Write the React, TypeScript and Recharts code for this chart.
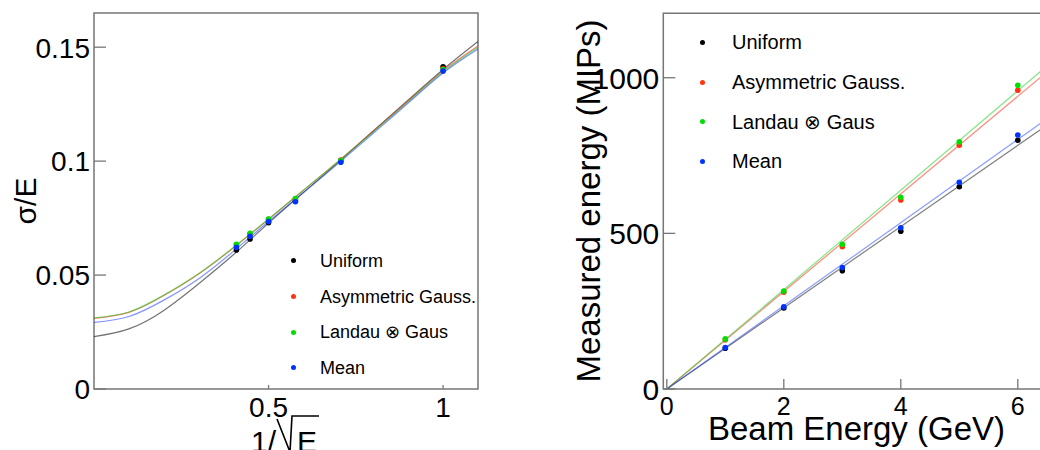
import {
  ComposedChart,
  Label,
  Legend,
  Line,
  ReferenceArea,
  Scatter,
  XAxis,
  YAxis,
} from "recharts";

const FONT = '"Liberation Sans", Arial, Helvetica, sans-serif';
const FRAME = "#767676";

// left panel: energy resolution vs 1/sqrt(E)
const invSqrtE = [0.408, 0.447, 0.5, 0.577, 0.707, 1.0];
const resUniform = [0.061, 0.0658, 0.073, 0.0825, 0.1, 0.1414];
const resAsym = [0.0632, 0.068, 0.0745, 0.0835, 0.1005, 0.1405];
const resLandau = [0.0635, 0.0683, 0.0746, 0.0836, 0.1002, 0.1402];
const resMean = [0.0622, 0.067, 0.0735, 0.0822, 0.0995, 0.1395];

// fitted curves
const fitInvSqrtE = [0, 0.1, 0.2, 0.3, 0.4, 0.5, 0.6, 0.7, 0.8, 0.9, 1.0, 1.1];
const fitUniform = [0.023, 0.0264, 0.0345, 0.0462, 0.059, 0.0728, 0.0862, 0.0995, 0.1132, 0.1268, 0.1402, 0.1525];
const fitAsym = [0.031, 0.0336, 0.041, 0.0505, 0.062, 0.0745, 0.0872, 0.1, 0.1132, 0.1264, 0.1396, 0.1505];
const fitLandau = [0.0312, 0.0338, 0.0412, 0.0507, 0.0622, 0.0746, 0.0872, 0.0998, 0.1128, 0.126, 0.1392, 0.15];
const fitMean = [0.0292, 0.0318, 0.039, 0.0484, 0.0605, 0.0735, 0.0862, 0.099, 0.1122, 0.1255, 0.1387, 0.1492];

const resTicksY = [0, 0.05, 0.1, 0.15];
const resTicksX = [0.5, 1];

// right panel: measured energy vs beam energy
const beamEnergy = [1, 2, 3, 4, 5, 6];
const mipsUniform = [131, 260, 380, 507, 650, 799];
const mipsAsym = [158, 311, 457, 607, 783, 960];
const mipsLandau = [161, 315, 465, 616, 794, 976];
const mipsMean = [133, 264, 390, 518, 664, 816];

const lineBeamE = [0, 6.4];
const lineUniform = [0, 835];
const lineAsym = [0, 1003];
const lineLandau = [0, 1022];
const lineMean = [0, 855];

const mipsTicksY = [0, 500, 1000];
const mipsTicksX = [0, 2, 4, 6];

const names = ["Uniform", "Asymmetric Gauss.", "Landau \u2297 Gaus", "Mean"];
const dotColors = ["#000000", "#ff3311", "#00e000", "#0033ff"];
const lineColors = ["#000000", "#ff1a00", "#11cc11", "#1a3cff"];

const zip = (xs: number[], ys: number[]) => xs.map((x, i) => ({ x, y: ys[i] }));

const leftPoints = [resUniform, resAsym, resLandau, resMean].map((ys) => zip(invSqrtE, ys));
const leftFits = [fitUniform, fitAsym, fitLandau, fitMean].map((ys) => zip(fitInvSqrtE, ys));
const rightPoints = [mipsUniform, mipsAsym, mipsLandau, mipsMean].map((ys) => zip(beamEnergy, ys));
const rightFits = [lineUniform, lineAsym, lineLandau, lineMean].map((ys) => zip(lineBeamE, ys));

const Dot = (props: any) => {
  const { cx, cy, fill } = props;
  if (cx == null || cy == null) return <g />;
  return <circle cx={cx} cy={cy} r={2.8} fill={fill} />;
};

function yTick(fontSize: number, len: number) {
  return (props: any) => {
    const { x, y, payload } = props;
    return (
      <g>
        <line x1={x} x2={x + len} y1={y} y2={y} stroke={FRAME} strokeWidth={1.3} />
        <text x={x - 4} y={y} dy="0.37em" textAnchor="end" fontSize={fontSize} fontFamily={FONT} fill="#000">
          {String(payload.value)}
        </text>
      </g>
    );
  };
}

function xTick(fontSize: number, len: number, baseline: number) {
  return (props: any) => {
    const { x, y, payload } = props;
    return (
      <g>
        <line x1={x} x2={x} y1={y} y2={y - len} stroke={FRAME} strokeWidth={1.3} />
        <text x={x} y={y + baseline} textAnchor="middle" fontSize={fontSize} fontFamily={FONT} fill="#000">
          {String(payload.value)}
        </text>
      </g>
    );
  };
}

function legendBox(left: number, top: number, rowH: number, markerX: number, textX: number, fontSize: number) {
  return () => (
    <div style={{ position: "absolute", left, top, width: 260, fontFamily: FONT }}>
      {names.map((n, i) => (
        <div key={n} style={{ position: "relative", height: rowH }}>
          <div
            style={{
              position: "absolute",
              left: markerX - left - 2.5,
              top: rowH / 2 - 2.5,
              width: 5,
              height: 5,
              borderRadius: "50%",
              background: dotColors[i],
            }}
          />
          <span
            style={{
              position: "absolute",
              left: textX - left,
              top: rowH / 2,
              transform: "translateY(-50%)",
              fontSize,
              lineHeight: 1,
              color: "#000",
              whiteSpace: "nowrap",
            }}
          >
            {n}
          </span>
        </div>
      ))}
    </div>
  );
}

function ResolutionChart() {
  return (
    <ComposedChart width={490} height={450} margin={{ top: 13, right: 12, bottom: 31, left: 0 }}>
      <XAxis
        dataKey="x"
        type="number"
        domain={[0, 1.1]}
        ticks={resTicksX}
        interval={0}
        allowDataOverflow
        height={30}
        axisLine={false}
        tickLine={false}
        tickSize={0}
        tickMargin={0}
        tick={xTick(28, 4, 28)}
      >
        <Label
          content={() => (
            <g fontFamily={FONT} fill="#000">
              <text x={251} y={452} fontSize={30}>
                1/
              </text>
              <path d="M277,419 L290,452 L292,416 L319,416" fill="none" stroke="#000" strokeWidth={1.6} />
              <text x={297} y={452} fontSize={30}>
                E
              </text>
            </g>
          )}
        />
      </XAxis>
      <YAxis
        dataKey="y"
        type="number"
        domain={[0, 0.165]}
        ticks={resTicksY}
        interval={0}
        allowDataOverflow
        width={94}
        axisLine={false}
        tickLine={false}
        tickSize={0}
        tickMargin={0}
        tick={yTick(28, 12)}
      >
        <Label
          content={() => (
            <text transform="translate(36,201) rotate(-90)" textAnchor="middle" fontSize={30} fontFamily={FONT} fill="#000">
              σ/E
            </text>
          )}
        />
      </YAxis>
      <ReferenceArea x1={0} x2={1.1} y1={0} y2={0.165} fill="none" stroke={FRAME} strokeWidth={1.5} ifOverflow="visible" />
      {leftFits.map((d, i) => (
        <Line
          key={"f" + i}
          data={d}
          dataKey="y"
          type="natural"
          stroke={lineColors[i]}
          strokeOpacity={0.55}
          strokeWidth={1.2}
          dot={false}
          activeDot={false}
          legendType="none"
          isAnimationActive={false}
        />
      ))}
      {leftPoints.map((d, i) => (
        <Scatter key={"p" + i} data={d} fill={dotColors[i]} shape={Dot} isAnimationActive={false} />
      ))}
      <Legend
        layout="vertical"
        align="center"
        verticalAlign="middle"
        wrapperStyle={{ position: "absolute", left: 0, top: 0, width: 0, height: 0 }}
        content={legendBox(288, 243, 35.7, 293, 320, 18)}
      />
    </ComposedChart>
  );
}

function EnergyChart() {
  return (
    <ComposedChart width={600} height={450} margin={{ top: 13.3, right: 43.7, bottom: 31, left: 0 }}>
      <XAxis
        dataKey="x"
        type="number"
        domain={[-0.06, 7]}
        ticks={mipsTicksX}
        interval={0}
        allowDataOverflow
        height={30}
        axisLine={false}
        tickLine={false}
        tickSize={0}
        tickMargin={0}
        tick={xTick(25, 10, 26)}
      >
        <Label
          content={() => (
            <text x={336.5} y={440} textAnchor="middle" fontSize={33} fontFamily={FONT} fill="#000">
              Beam Energy (GeV)
            </text>
          )}
        />
      </XAxis>
      <YAxis
        dataKey="y"
        type="number"
        domain={[0, 1207]}
        ticks={mipsTicksY}
        interval={0}
        allowDataOverflow
        width={143.3}
        axisLine={false}
        tickLine={false}
        tickSize={0}
        tickMargin={0}
        tick={yTick(30, 12)}
      >
        <Label
          content={() => (
            <text transform="translate(80,201) rotate(-90)" textAnchor="middle" fontSize={33} fontFamily={FONT} fill="#000">
              Measured energy (MIPs)
            </text>
          )}
        />
      </YAxis>
      <ReferenceArea x1={-0.06} x2={7} y1={0} y2={1207} fill="none" stroke={FRAME} strokeWidth={1.5} ifOverflow="visible" />
      {rightFits.map((d, i) => (
        <Line
          key={"f" + i}
          data={d}
          dataKey="y"
          type="linear"
          stroke={lineColors[i]}
          strokeOpacity={0.5}
          strokeWidth={1.2}
          dot={false}
          activeDot={false}
          legendType="none"
          isAnimationActive={false}
        />
      ))}
      {rightPoints.map((d, i) => (
        <Scatter key={"p" + i} data={d} fill={dotColors[i]} shape={Dot} isAnimationActive={false} />
      ))}
      <Legend
        layout="vertical"
        align="center"
        verticalAlign="middle"
        wrapperStyle={{ position: "absolute", left: 0, top: 0, width: 0, height: 0 }}
        content={legendBox(177, 22.5, 39.7, 182.7, 212, 20)}
      />
    </ComposedChart>
  );
}

export default function App() {
  return (
    <div
      style={{
        position: "fixed",
        left: 0,
        top: 0,
        width: 1040,
        height: 450,
        overflow: "hidden",
        background: "#fff",
      }}
    >
      <div style={{ position: "absolute", left: 0, top: 0 }}>
        <ResolutionChart />
      </div>
      <div style={{ position: "absolute", left: 520, top: 0 }}>
        <EnergyChart />
      </div>
    </div>
  );
}
